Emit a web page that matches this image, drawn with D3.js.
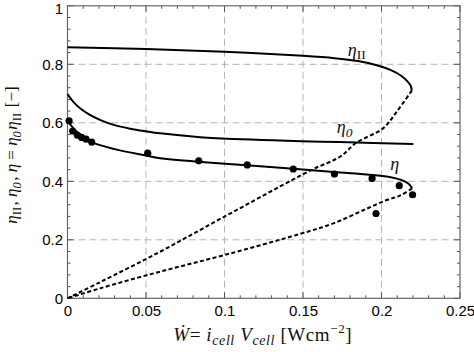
<!DOCTYPE html>
<html><head><meta charset="utf-8">
<script src="https://cdn.jsdelivr.net/npm/d3@7"></script>
<style>html,body{margin:0;padding:0;background:#fff;}</style>
</head><body>
<svg id="chart" width="474" height="352"></svg>
<script>
// ---- data ----
const xTicks = [0, 0.05, 0.1, 0.15, 0.2, 0.25];
const xTickLabels = ["0", "0.05", "0.1", "0.15", "0.2", "0.25"];
const yTicks = [0, 0.2, 0.4, 0.6, 0.8, 1];
const yTickLabels = ["0", "0.2", "0.4", "0.6", "0.8", "1"];

const etaIIUpper = [[0,0.858],[0.05,0.852],[0.1,0.843],[0.15,0.829],[0.17,0.821],[0.185,0.811],[0.197,0.797],[0.206,0.78],[0.2125,0.761],[0.2167,0.741],[0.2187,0.725],[0.2193,0.71]];
const etaIILower = [[0.2193,0.71],[0.2097,0.638],[0.201,0.581],[0.184,0.532],[0.1736,0.484],[0.1555,0.439],[0.0982,0.274],[0.0589,0.159],[0.0207,0.055],[0,0]];
const eta0 = [[0,0.698],[0.004,0.67],[0.008,0.65],[0.014,0.628],[0.0207,0.61],[0.03,0.592],[0.04,0.58],[0.05,0.571],[0.0589,0.564],[0.0844,0.551],[0.0982,0.546],[0.149,0.537],[0.1736,0.534],[0.2203,0.5275]];
const etaUpper = [[0,0.607],[0.005,0.574],[0.01,0.553],[0.0154,0.534],[0.03,0.51],[0.05,0.488],[0.0589,0.479],[0.0833,0.467],[0.0982,0.461],[0.148,0.441],[0.1736,0.43],[0.1906,0.423],[0.205,0.415],[0.2125,0.405],[0.2173,0.392],[0.2195,0.376]];
const etaLower = [[0.2195,0.376],[0.2118,0.351],[0.2033,0.336],[0.19,0.305],[0.1693,0.256],[0.148,0.22],[0.1,0.148],[0.0589,0.091],[0.0207,0.034],[0,0]];
const measX = [0.001,0.0033,0.0062,0.009,0.0118,0.0154,0.0511,0.0836,0.1145,0.1438,0.170,0.194,0.2113,0.2198,0.1965];
const measY = [0.607,0.572,0.558,0.55,0.544,0.534,0.496,0.470,0.456,0.442,0.425,0.410,0.385,0.354,0.29];

// ---- layout ----
const svg = d3.select("#chart");
const L = 67.5, R = 460, T = 5.8, B = 298.3;
const x = d3.scaleLinear().domain([0, 0.25]).range([L, R]);
const y = d3.scaleLinear().domain([0, 1]).range([B, T]);

// gridlines
const grid = svg.append("g").attr("stroke", "#b4b4b4").attr("stroke-width", 1).attr("stroke-dasharray", "7,4");
[0.05, 0.1, 0.15, 0.2].forEach(v => grid.append("line").attr("x1", x(v)).attr("x2", x(v)).attr("y1", T).attr("y2", B));
[0.2, 0.4, 0.6, 0.8].forEach(v => grid.append("line").attr("x1", L).attr("x2", R).attr("y1", y(v)).attr("y2", y(v)));

// ticks (inward) on all four sides
const tickCol = "#555";
const xMinor = d3.range(0, 0.2501, 0.01);
const yMinor = d3.range(0, 1.0001, 0.04);
const tg = svg.append("g").attr("stroke", tickCol).attr("stroke-width", 1);
xMinor.forEach(v => {
  const major = xTicks.some(t => Math.abs(t - v) < 1e-6);
  const len = major ? 6 : 3;
  tg.append("line").attr("x1", x(v)).attr("x2", x(v)).attr("y1", B).attr("y2", B - len);
  tg.append("line").attr("x1", x(v)).attr("x2", x(v)).attr("y1", T).attr("y2", T + len);
});
yMinor.forEach(v => {
  const major = yTicks.some(t => Math.abs(t - v) < 1e-6);
  const len = major ? 6 : 3;
  tg.append("line").attr("x1", L).attr("x2", L + len).attr("y1", y(v)).attr("y2", y(v));
  tg.append("line").attr("x1", R).attr("x2", R - len).attr("y1", y(v)).attr("y2", y(v));
});

// frame
svg.append("rect").attr("x", L).attr("y", T).attr("width", R - L).attr("height", B - T)
  .attr("fill", "none").attr("stroke", "#666").attr("stroke-width", 1.2);

// axes tick labels via d3 axes (lines hidden)
const xAxis = d3.axisBottom(x).tickValues(xTicks).tickFormat((d, i) => xTickLabels[i]).tickSize(0).tickPadding(0);
const gx = svg.append("g").attr("transform", `translate(0,${B})`).call(xAxis);
gx.select(".domain").remove();
gx.selectAll("text").attr("font-family", "Liberation Sans, Arial, sans-serif").attr("font-size", 15).attr("fill", "#000").attr("dy", "1.2em");

const yAxis = d3.axisLeft(y).tickValues(yTicks).tickFormat((d, i) => yTickLabels[i]).tickSize(0).tickPadding(4.5);
const gy = svg.append("g").attr("transform", `translate(${L},0)`).call(yAxis);
gy.select(".domain").remove();
gy.selectAll("text").attr("font-family", "Liberation Sans, Arial, sans-serif").attr("font-size", 15).attr("fill", "#000");
gy.selectAll(".tick").filter(d => d === 1).select("text").attr("dy", "0.5em");

// curves
const line = d3.line().x(d => x(d[0])).y(d => y(d[1])).curve(d3.curveCatmullRom.alpha(0.5));
const curves = svg.append("g").attr("fill", "none").attr("stroke", "#000").attr("stroke-width", 2);
curves.append("path").attr("d", line(etaIIUpper));
curves.append("path").attr("d", line(eta0));
curves.append("path").attr("d", line(etaUpper));
curves.append("path").attr("d", line(etaIILower)).attr("stroke-dasharray", "4,2.5");
curves.append("path").attr("d", line(etaLower)).attr("stroke-dasharray", "4,2.5");

// measurement points
svg.append("g").selectAll("circle").data(measX).join("circle")
  .attr("cx", d => x(d)).attr("cy", (d, i) => y(measY[i])).attr("r", 3.6).attr("fill", "#000");

// curve labels
const serif = "Liberation Serif, Times New Roman, serif";
function etaLabel(px, py, sub, size) {
  const t = svg.append("text").attr("x", px).attr("y", py).attr("font-family", serif).attr("font-size", size).attr("fill", "#111");
  t.append("tspan").attr("font-style", "italic").text("η");
  if (sub) t.append("tspan").attr("font-size", size * 0.75).attr("dy", size * 0.22).attr("font-style", sub === "0" ? "italic" : "normal").text(sub);
  return t;
}
etaLabel(x(0.1785), y(0.83), "II", 18);
etaLabel(x(0.1715), y(0.565), "0", 18);
etaLabel(x(0.2055), y(0.44), "", 18);

// y axis label
const yl = svg.append("text").attr("transform", `translate(17,155) rotate(-90)`)
  .attr("text-anchor", "middle").attr("font-family", serif).attr("font-size", 17).attr("fill", "#111");
function addEta(t, sub, subItalic) {
  t.append("tspan").attr("font-style", "italic").text("η");
  if (sub) {
    t.append("tspan").attr("font-size", 12.5).attr("dy", 4).attr("font-style", subItalic ? "italic" : "normal").text(sub);
    t.append("tspan").attr("dy", -4).text("\u200a");
  }
}
addEta(yl, "II", false); yl.append("tspan").text(", ");
addEta(yl, "0", true); yl.append("tspan").text(", ");
addEta(yl, "", false); yl.append("tspan").text(" = ");
addEta(yl, "0", true); addEta(yl, "II", false);
yl.append("tspan").text(" [\u2212]");

// x axis label
const xl = svg.append("text").attr("x", (L + R) / 2 - 1).attr("y", 341).attr("text-anchor", "middle")
  .attr("font-family", serif).attr("font-size", 19).attr("fill", "#111").attr("letter-spacing", 0.6);
xl.append("tspan").attr("font-style", "italic").text("W\u0307");
xl.append("tspan").text("= ");
xl.append("tspan").attr("font-style", "italic").text("i");
xl.append("tspan").attr("font-style", "italic").attr("font-size", 14).attr("dy", 4).text("cell");
xl.append("tspan").attr("font-style", "italic").attr("dy", -4).text(" V");
xl.append("tspan").attr("font-style", "italic").attr("font-size", 14).attr("dy", 4).text("cell");
xl.append("tspan").attr("dy", -4).text("  [Wcm");
xl.append("tspan").attr("font-size", 13).attr("dy", -8).text("\u22122");
xl.append("tspan").attr("dy", 8).text("]");
</script>
</body></html>
